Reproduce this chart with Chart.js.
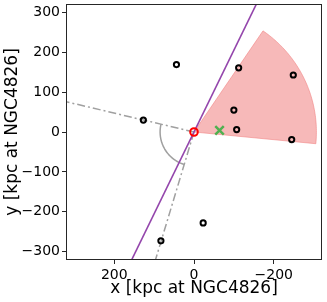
<!DOCTYPE html>
<html>
<head>
<meta charset="utf-8">
<script src="https://cdn.jsdelivr.net/npm/chart.js@4/dist/chart.umd.min.js"></script>
<style>
html,body{margin:0;padding:0;background:#fff;}
#wrap{width:327px;height:302px;}
</style>
</head>
<body>
<div id="wrap"><canvas id="c" width="327" height="302"></canvas></div>
<script>
// ---- data (kpc at NGC4826) ----
const satX = [44, -112, -249, -100, -107, -245, 127, -23, 83];
const satY = [169, 161, 143, 55, 6, -19, 30, -228, -273];
const hostX = [0];
const hostY = [0];
const markX = [-64];
const markY = [4];
const purpleLineX = [157, -157];
const purpleLineY = [-322, 322];
const rayAX = [0, 321];
const rayAY = [0, 76];
const rayBX = [0, 97];
const rayBY = [0, -322];
const wedgeCenter = [0, 0];
const wedgeRadius = 307;
const wedgeAngles = [124.3, 185.5];
const arcRadius = 85;
const arcAngles = [13.4, -73.2];
const xTicks = [200, 0, -200];
const yTicks = [-300, -200, -100, 0, 100, 200, 300];
const axisMin = -321, axisMax = 321;

const toPts = (xs, ys) => xs.map((v, i) => ({x: v, y: ys[i]}));

function sectorPath(chart, c, r, a0, a1, closeToCenter) {
  const {ctx, scales: {x, y}} = chart;
  const step = a1 >= a0 ? 1 : -1;
  const n = Math.ceil(Math.abs(a1 - a0));
  ctx.beginPath();
  if (closeToCenter) ctx.moveTo(x.getPixelForValue(c[0]), y.getPixelForValue(c[1]));
  for (let i = 0; i <= n; i++) {
    const a = (i === n ? a1 : a0 + step * i) * Math.PI / 180;
    const px = x.getPixelForValue(c[0] + r * Math.cos(a));
    const py = y.getPixelForValue(c[1] + r * Math.sin(a));
    if (i === 0 && !closeToCenter) ctx.moveTo(px, py); else ctx.lineTo(px, py);
  }
  if (closeToCenter) ctx.closePath();
}

const shapes = {
  id: 'shapes',
  beforeDatasetsDraw(chart) {
    const {ctx, chartArea: a} = chart;
    ctx.save();
    ctx.beginPath();
    ctx.rect(a.left, a.top, a.right - a.left, a.bottom - a.top);
    ctx.clip();
    sectorPath(chart, wedgeCenter, wedgeRadius, wedgeAngles[0], wedgeAngles[1], true);
    ctx.fillStyle = 'rgba(240,128,128,0.55)';
    ctx.fill();
    ctx.strokeStyle = 'rgba(240,128,128,0.55)';
    ctx.lineWidth = 1;
    ctx.stroke();
    sectorPath(chart, [0, 0], arcRadius, arcAngles[0], arcAngles[1], false);
    ctx.strokeStyle = '#a0a0a0';
    ctx.lineWidth = 1.5;
    ctx.stroke();
    ctx.restore();
  },
  afterDraw(chart) {
    const {ctx, chartArea: a} = chart;
    ctx.save();
    ctx.strokeStyle = '#262626';
    ctx.lineWidth = 1;
    ctx.strokeRect(a.left + 0.5, a.top + 0.5, a.right - a.left - 1, a.bottom - a.top - 1);
    ctx.restore();
  }
};

const font = {family: 'DejaVu Sans', size: 14};
const tfont = {family: 'DejaVu Sans', size: 17};

function zeroPad(s, keys) {
  keys.forEach(k => { s['padding' + k] = 0; if (s._margins) s._margins[k.toLowerCase()] = 0; });
}

new Chart(document.getElementById('c'), {
  type: 'scatter',
  data: {
    datasets: [
      {data: toPts(satX, satY), pointStyle: 'circle', pointRadius: 2.6, borderColor: '#000', backgroundColor: 'rgba(0,0,0,0)', borderWidth: 2, order: 1},
      {data: toPts(hostX, hostY), pointStyle: 'circle', pointRadius: 3.8, borderColor: '#ff0000', backgroundColor: 'rgba(0,0,0,0)', borderWidth: 2, order: 2},
      {data: toPts(markX, markY), pointStyle: 'crossRot', pointRadius: 6, borderColor: '#50b050', borderWidth: 2.5, order: 3},
      {data: toPts(purpleLineX, purpleLineY), showLine: true, pointRadius: 0, borderColor: '#9446ac', borderWidth: 1.6, order: 4},
      {data: toPts(rayAX, rayAY), showLine: true, pointRadius: 0, borderColor: '#a0a0a0', borderWidth: 1.5, borderDash: [8, 3, 2, 3], order: 5},
      {data: toPts(rayBX, rayBY), showLine: true, pointRadius: 0, borderColor: '#a0a0a0', borderWidth: 1.5, borderDash: [8, 3, 2, 3], order: 6}
    ]
  },
  options: {
    responsive: false,
    animation: false,
    events: [],
    layout: {autoPadding: false, padding: {top: 4, right: 5, left: 0, bottom: 0}},
    plugins: {legend: {display: false}, tooltip: {enabled: false}},
    scales: {
      x: {
        type: 'linear', reverse: true, min: axisMin, max: axisMax,
        afterBuildTicks: s => { s.ticks = xTicks.map(v => ({value: v})); },
        afterFit: s => { s.height = 42; zeroPad(s, ['Left', 'Right']); },
        ticks: {font, color: '#000', padding: 3, maxRotation: 0, callback: v => (v < 0 ? '\u2212' + Math.abs(v) : String(v))},
        grid: {display: true, drawOnChartArea: false, drawTicks: true, tickLength: 4, color: '#262626', lineWidth: 1},
        border: {display: false},
        title: {display: true, text: 'x [kpc at NGC4826]', font: tfont, color: '#000', padding: {top: 0, bottom: 3}}
      },
      y: {
        type: 'linear', min: axisMin, max: axisMax,
        afterBuildTicks: s => { s.ticks = yTicks.map(v => ({value: v})); },
        afterFit: s => { s.width = 66; zeroPad(s, ['Top', 'Bottom']); },
        ticks: {font, color: '#000', padding: 2, callback: v => (v < 0 ? '\u2212' + Math.abs(v) : String(v))},
        grid: {display: true, drawOnChartArea: false, drawTicks: true, tickLength: 4, color: '#262626', lineWidth: 1},
        border: {display: false},
        title: {display: true, text: 'y [kpc at NGC4826]', font: tfont, color: '#000', padding: {top: 2, bottom: 0}}
      }
    }
  },
  plugins: [shapes]
});
</script>
</body>
</html>
